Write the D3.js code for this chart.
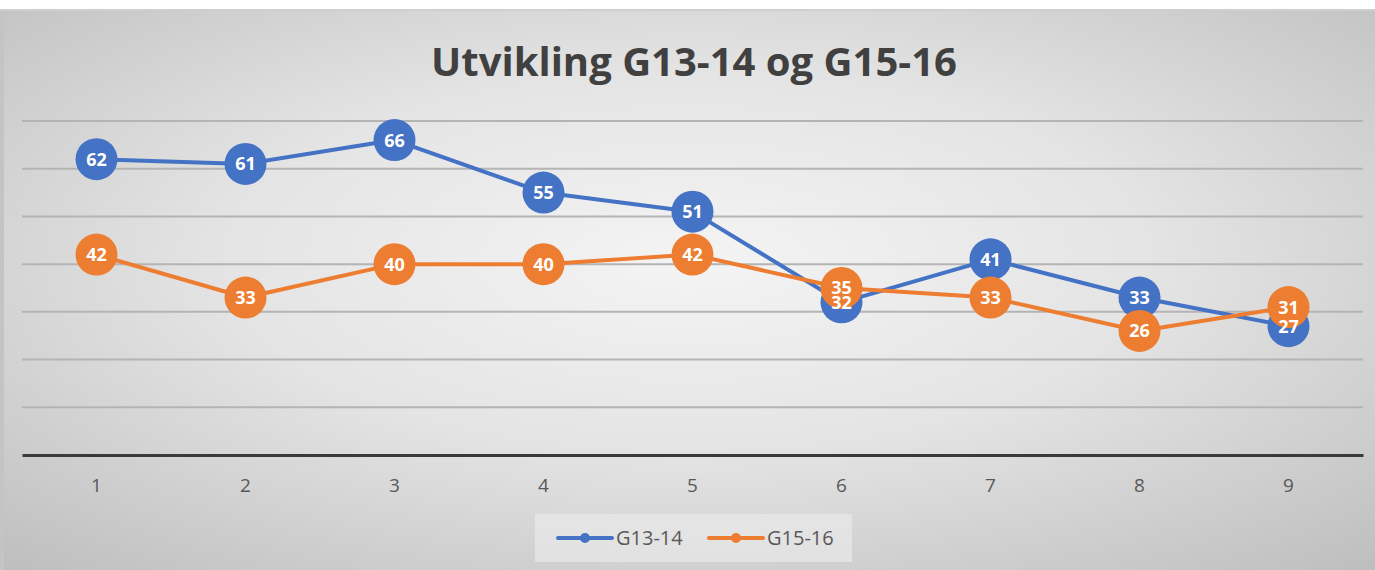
<!DOCTYPE html>
<html>
<head>
<meta charset="utf-8">
<script src="https://cdn.jsdelivr.net/npm/d3@7"></script>
<style>
  html, body { margin: 0; padding: 0; background: #fff; }
  svg { display: block; }
</style>
</head>
<body>
<script>
const categories = [1, 2, 3, 4, 5, 6, 7, 8, 9]
const g1314 = [62, 61, 66, 55, 51, 32, 41, 33, 27]
const g1516 = [42, 33, 40, 40, 42, 35, 33, 26, 31]
const seriesNames = ["G13-14", "G15-16"]
const yTicks = [0, 10, 20, 30, 40, 50, 60, 70]

const W = 1375, H = 570
const colors = ["#4472C4", "#ED7D31"]
const FONT = "'Open Sans', sans-serif"

const svg = d3.select("body").append("svg")
    .attr("width", W)
    .attr("height", H)

const defs = svg.append("defs")
const grad = defs.append("radialGradient")
    .attr("id", "bg")
    .attr("cx", "50%").attr("cy", "45%")
    .attr("r", "75%")
grad.append("stop").attr("offset", "0%").attr("stop-color", "#f4f4f4")
grad.append("stop").attr("offset", "45%").attr("stop-color", "#e4e4e4")
grad.append("stop").attr("offset", "100%").attr("stop-color", "#bdbdbd")

// chart area background
svg.append("rect")
    .attr("x", 0).attr("y", 9)
    .attr("width", W).attr("height", H - 9)
    .attr("fill", "url(#bg)")
svg.append("rect")
    .attr("x", 0).attr("y", 9)
    .attr("width", 4).attr("height", H - 9)
    .attr("fill", "#c4c4c4")
svg.append("line")
    .attr("x1", 0).attr("x2", W)
    .attr("y1", 10).attr("y2", 10)
    .attr("stroke", "#cfcfcf").attr("stroke-width", 2)

const x = d3.scaleBand()
    .domain(categories)
    .range([22, 1363])

const y = d3.scaleLinear()
    .domain([0, 70])
    .range([455, 121])

// gridlines
svg.append("g")
    .selectAll("line")
    .data(yTicks.filter(d => d > 0))
    .join("line")
    .attr("x1", 22).attr("x2", 1363)
    .attr("y1", d => y(d)).attr("y2", d => y(d))
    .attr("stroke", "#b4b4b4")
    .attr("stroke-width", 2)

// x axis
const xAxis = svg.append("g")
    .attr("transform", `translate(0,${y(0)})`)
    .call(d3.axisBottom(x).tickSize(0).tickPadding(24))
xAxis.attr("font-size", 19).attr("font-family", FONT)
xAxis.select(".domain")
    .attr("stroke", "#3a3a3a")
    .attr("stroke-width", 3)
xAxis.selectAll("text")
    .attr("fill", "#595959")
    .style("font-size", "19px")

// title
svg.append("text")
    .attr("x", 694)
    .attr("y", 76)
    .attr("text-anchor", "middle")
    .attr("fill", "#404040")
    .style("font-family", FONT)
    .style("font-weight", "bold")
    .style("font-size", "40px")
    .text("Utvikling G13-14 og G15-16")

const cx = d => x(d) + x.bandwidth() / 2
const line = d3.line()
    .x((d, i) => cx(categories[i]))
    .y(d => y(d))

const allSeries = [g1314, g1516]

allSeries.forEach((vals, s) => {
    svg.append("path")
        .datum(vals)
        .attr("fill", "none")
        .attr("stroke", colors[s])
        .attr("stroke-width", 4)
        .attr("stroke-linejoin", "round")
        .attr("d", line)
})

allSeries.forEach((vals, s) => {
    svg.append("g")
        .selectAll("circle")
        .data(vals)
        .join("circle")
        .attr("cx", (d, i) => cx(categories[i]))
        .attr("cy", d => y(d))
        .attr("r", 21)
        .attr("fill", colors[s])
})

// labels drawn after all markers
allSeries.forEach((vals, s) => {
    svg.append("g")
        .selectAll("text")
        .data(vals)
        .join("text")
        .attr("x", (d, i) => cx(categories[i]))
        .attr("y", d => y(d))
        .attr("dy", "0.36em")
        .attr("text-anchor", "middle")
        .attr("fill", "#fff")
        .style("font-family", FONT)
        .style("font-weight", "bold")
        .style("font-size", "18px")
        .text(d => d)
})

// legend
svg.append("rect")
    .attr("x", 535).attr("y", 514)
    .attr("width", 317).attr("height", 48)
    .attr("fill", "#ececec")
    .attr("opacity", 0.6)

const legend = svg.append("g")
    .selectAll("g")
    .data(seriesNames)
    .join("g")
    .attr("transform", (d, i) => `translate(${558 + i * 151},538)`)
legend.append("line")
    .attr("x1", 0).attr("x2", 54)
    .attr("stroke", (d, i) => colors[i])
    .attr("stroke-width", 4)
    .attr("stroke-linecap", "round")
legend.append("circle")
    .attr("cx", 27).attr("r", 5)
    .attr("fill", (d, i) => colors[i])
legend.append("text")
    .attr("x", 58)
    .attr("dy", "0.36em")
    .attr("fill", "#595959")
    .style("font-family", FONT)
    .style("font-size", "20px")
    .text(d => d)
</script>
</body>
</html>
